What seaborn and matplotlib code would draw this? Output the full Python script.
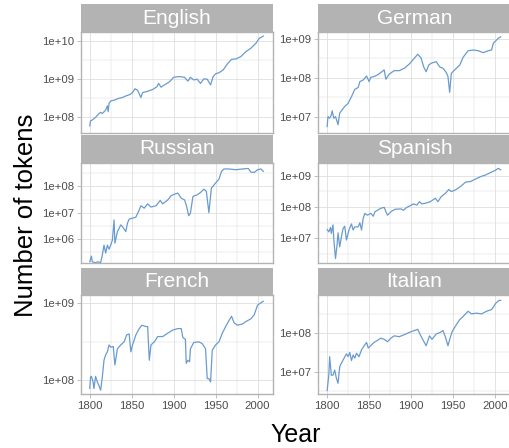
import matplotlib
matplotlib.use("Agg")
import numpy as np
import pandas as pd
import matplotlib.pyplot as plt
import seaborn as sns
from matplotlib.ticker import FixedLocator, FuncFormatter, MultipleLocator, NullFormatter
from matplotlib.patches import Rectangle

languages = ["English", "German", "Russian", "Spanish", "French", "Italian"]

english_years = [1800, 1801, 1803, 1807, 1811, 1813, 1815, 1819, 1821, 1822, 1823, 1825, 1829, 1835,
                 1839, 1843, 1848, 1851, 1854, 1857, 1861, 1863, 1867, 1875, 1880, 1882, 1885, 1889,
                 1895, 1900, 1907, 1913, 1917, 1920, 1924, 1928, 1932, 1936, 1940, 1944, 1947, 1950,
                 1954, 1959, 1964, 1969, 1974, 1980, 1986, 1992, 1998, 2002, 2007]
english_tokens = [5.9e7, 8.1e7, 8.5e7, 1.0e8, 1.26e8, 1.35e8, 1.26e8, 1.55e8, 2.0e8, 1.41e8, 2.34e8,
                  2.69e8, 2.82e8, 3.16e8, 3.31e8, 3.63e8, 3.98e8, 4.47e8, 5.62e8, 5.13e8, 3.31e8,
                  4.47e8, 4.68e8, 5.37e8, 6.31e8, 7.76e8, 6.17e8, 7.08e8, 8.51e8, 1.12e9, 1.17e9,
                  1.12e9, 8.91e8, 1.12e9, 9.55e8, 1.0e9, 7.76e8, 1.02e9, 1.0e9, 7.08e8, 1.17e9,
                  1.38e9, 1.48e9, 1.74e9, 2.51e9, 3.31e9, 3.39e9, 3.89e9, 5.25e9, 6.46e9, 8.71e9,
                  1.17e10, 1.35e10]

german_years = [1800, 1801, 1803, 1805, 1806, 1808, 1810, 1813, 1815, 1817, 1821, 1825, 1829, 1833,
                1837, 1839, 1843, 1847, 1850, 1852, 1856, 1860, 1864, 1868, 1870, 1874, 1880, 1886,
                1892, 1898, 1904, 1908, 1912, 1915, 1918, 1921, 1924, 1930, 1934, 1938, 1942, 1944,
                1946, 1948, 1952, 1958, 1962, 1968, 1974, 1980, 1986, 1992, 1996, 1998, 2004, 2007]
german_tokens = [5.5e6, 1.0e7, 9.1e6, 1.1e7, 1.41e7, 9.1e6, 1.0e7, 6.2e6, 1.23e7, 1.41e7, 1.82e7,
                 2.19e7, 3.24e7, 5.0e7, 5.6e7, 7.9e7, 8.7e7, 1.1e8, 7.9e7, 1.02e8, 1.07e8, 1.17e8,
                 1.35e8, 1.58e8, 9.1e7, 1.23e8, 1.51e8, 1.51e8, 1.74e8, 2.24e8, 3.16e8, 3.98e8,
                 3.16e8, 1.9e8, 1.41e8, 2.09e8, 2.34e8, 2.57e8, 1.9e8, 1.74e8, 1.35e8, 1.07e8,
                 4.2e7, 1.29e8, 1.58e8, 2.09e8, 3.31e8, 4.9e8, 5.1e8, 4.9e8, 4.37e8, 4.9e8, 5.1e8,
                 7.6e8, 1.02e9, 1.12e9]

russian_years = [1800, 1802, 1803, 1807, 1810, 1813, 1815, 1817, 1819, 1821, 1823, 1825, 1827, 1829,
                 1830, 1833, 1835, 1837, 1839, 1843, 1845, 1847, 1851, 1855, 1859, 1861, 1865, 1869,
                 1873, 1879, 1884, 1887, 1893, 1897, 1901, 1905, 1909, 1913, 1915, 1918, 1920, 1923,
                 1928, 1932, 1936, 1939, 1942, 1945, 1950, 1954, 1957, 1960, 1966, 1974, 1982, 1989,
                 1992, 1996, 2000, 2004, 2007]
russian_tokens = [1.4e5, 2.3e5, 1.4e5, 1.3e5, 1.4e5, 1.3e5, 2.5e5, 6.0e5, 3.0e5, 6.0e5, 4.2e5, 6.0e5,
                  9.3e5, 5.4e6, 7.1e5, 1.95e6, 2.6e6, 3.5e6, 3.0e6, 1.95e6, 4.1e6, 5.8e6, 6.3e6,
                  6.9e6, 1.29e7, 1.86e7, 1.51e7, 2.19e7, 1.66e7, 1.86e7, 2.95e7, 2.19e7, 3.09e7,
                  4.47e7, 5.1e7, 5.6e7, 3.6e7, 3.1e7, 2.0e7, 7.8e6, 9.8e6, 4.2e7, 4.8e7, 5.9e7,
                  7.9e7, 6.5e7, 1.02e7, 8.7e7, 1.35e8, 1.9e8, 3.7e8, 4.6e8, 4.6e8, 4.3e8, 4.6e8,
                  4.8e8, 3.5e8, 3.4e8, 4.3e8, 4.6e8, 3.7e8]

spanish_years = [1800, 1802, 1804, 1805, 1807, 1808, 1810, 1812, 1813, 1815, 1817, 1819, 1821, 1823,
                 1826, 1829, 1831, 1833, 1837, 1839, 1841, 1843, 1845, 1848, 1852, 1855, 1857, 1864,
                 1868, 1870, 1872, 1876, 1881, 1888, 1891, 1895, 1899, 1903, 1907, 1910, 1913, 1917,
                 1923, 1929, 1932, 1936, 1941, 1945, 1948, 1953, 1959, 1965, 1971, 1977, 1983, 1989,
                 1995, 2000, 2004, 2007]
spanish_tokens = [1.95e7, 1.62e7, 2.24e7, 1.45e7, 2.7e7, 8.9e6, 2.3e6, 6.9e6, 1.51e7, 5.4e6, 1.12e7,
                  2.09e7, 2.45e7, 8.9e6, 1.86e7, 2.9e7, 1.86e7, 2.34e7, 2.34e7, 3.16e7, 1.86e7,
                  4.4e7, 6.3e7, 5.5e7, 6.3e7, 5.1e7, 7.1e7, 9.1e7, 9.8e7, 7.1e7, 5.5e7, 7.1e7,
                  8.5e7, 8.7e7, 7.9e7, 9.8e7, 1.1e8, 1.26e8, 1.15e8, 1.48e8, 1.26e8, 1.32e8,
                  1.48e8, 1.9e8, 1.48e8, 2.14e8, 2.75e8, 3.6e8, 3.1e8, 3.5e8, 4.5e8, 6.2e8, 6.5e8,
                  7.8e8, 9.3e8, 1.05e9, 1.26e9, 1.45e9, 1.7e9, 1.51e9]

french_years = [1800, 1801, 1802, 1804, 1805, 1807, 1809, 1811, 1813, 1815, 1817, 1819, 1821, 1823,
                1825, 1828, 1830, 1833, 1837, 1841, 1844, 1847, 1849, 1851, 1855, 1859, 1862, 1867,
                1869, 1871, 1873, 1877, 1881, 1887, 1893, 1899, 1905, 1909, 1911, 1914, 1915, 1917,
                1919, 1920, 1924, 1930, 1934, 1938, 1940, 1942, 1944, 1946, 1950, 1954, 1958, 1962,
                1966, 1969, 1972, 1976, 1982, 1986, 1992, 1996, 2000, 2004, 2007]
french_tokens = [7.8e7, 1.1e8, 1.12e8, 9.5e7, 7.8e7, 1.12e8, 9.5e7, 8.5e7, 7.4e7, 1.1e8, 1.82e8,
                 2.14e8, 2.34e8, 2.88e8, 2.69e8, 2.75e8, 1.58e8, 2.57e8, 2.88e8, 3.16e8, 3.9e8,
                 4.0e8, 2.34e8, 2.88e8, 3.9e8, 4.7e8, 5.2e8, 5.0e8, 5.0e8, 1.82e8, 2.88e8, 3.16e8,
                 3.7e8, 3.7e8, 4.1e8, 4.5e8, 4.7e8, 4.7e8, 3.6e8, 3.4e8, 1.66e8, 1.82e8, 1.74e8,
                 2.57e8, 3.1e8, 3.16e8, 3.0e8, 2.57e8, 1.05e8, 1.05e8, 9.5e7, 2.45e8, 2.88e8,
                 3.16e8, 4.1e8, 5.0e8, 6.0e8, 6.8e8, 5.6e8, 5.2e8, 5.4e8, 5.8e8, 6.3e8, 7.1e8,
                 9.5e8, 1.02e9, 1.07e9]

italian_years = [1800, 1802, 1803, 1805, 1807, 1809, 1811, 1813, 1815, 1817, 1819, 1823, 1825, 1827,
                 1829, 1831, 1833, 1835, 1838, 1841, 1845, 1847, 1849, 1853, 1856, 1860, 1864, 1868,
                 1872, 1876, 1880, 1886, 1892, 1898, 1904, 1908, 1911, 1914, 1918, 1922, 1925, 1930,
                 1935, 1938, 1941, 1944, 1946, 1949, 1954, 1958, 1962, 1968, 1972, 1978, 1984, 1990,
                 1996, 2001, 2005, 2007]
italian_tokens = [3.2e6, 8.1e6, 2.45e7, 8.1e6, 8.1e6, 1.1e7, 6.8e6, 5.0e6, 1.35e7, 1.66e7, 2.0e7,
                  2.9e7, 2.45e7, 3.16e7, 1.95e7, 2.7e7, 2.24e7, 3.0e7, 2.45e7, 3.7e7, 5.0e7,
                  5.75e7, 4.1e7, 5.0e7, 5.75e7, 6.5e7, 7.4e7, 6.9e7, 6.0e7, 7.4e7, 8.5e7, 8.1e7,
                  9.1e7, 1.05e8, 1.17e8, 1.26e8, 9.1e7, 6.8e7, 4.7e7, 8.5e7, 6.9e7, 9.5e7, 1.05e8,
                  1.17e8, 7.9e7, 4.7e7, 6.8e7, 1.1e8, 1.66e8, 2.24e8, 2.7e8, 3.7e8, 3.16e8, 3.3e8,
                  3.16e8, 3.7e8, 4.1e8, 6.0e8, 7.1e8, 7.1e8]

x_ticks = [1800, 1850, 1900, 1950, 2000]

series = {
    "English": (english_years, english_tokens),
    "German": (german_years, german_tokens),
    "Russian": (russian_years, russian_tokens),
    "Spanish": (spanish_years, spanish_tokens),
    "French": (french_years, french_tokens),
    "Italian": (italian_years, italian_tokens),
}

# panel y-limits (log10)
ylims = {
    "English": (7.59, 10.236),
    "German": (6.58, 9.17),
    "Russian": (5.09, 8.9),
    "Spanish": (6.21, 9.41),
    "French": (7.82, 9.11),
    "Italian": (6.42, 8.99),
}

df = pd.concat(
    [pd.DataFrame({"language": k, "year": v[0], "tokens": v[1]}) for k, v in series.items()],
    ignore_index=True,
)

sns.set_theme(style="white")
plt.rcParams["font.family"] = ["Liberation Sans", "DejaVu Sans"]

LINE = "#6a9bcf"
GRID = "#DEDEDE"
BORDER = "#B3B3B3"
TXT = "#4D4D4D"

g = sns.FacetGrid(df, col="language", col_wrap=2, col_order=languages,
                  sharex=True, sharey=False, height=1.5, aspect=1.3)
g.map_dataframe(sns.lineplot, x="year", y="tokens", color=LINE, linewidth=0.9)
fig = g.figure
fig.set_size_inches(5.09, 4.48)
g.set_titles("")
g.set_axis_labels("", "")

W, H = 509.0, 448.0
col_left = [81.0, 318.4]
col_w = 192.0
rows = [(32.0, 133.0), (162.7, 263.3), (295.0, 394.0)]
strip_h = 27.5

fmt = FuncFormatter(lambda v, p: f"{v:.0e}")

for i, lang in enumerate(languages):
    ax = g.axes_dict[lang]
    r, c = divmod(i, 2)
    top, bot = rows[r]
    ax.set_position([col_left[c] / W, 1 - bot / H, col_w / W, (bot - top) / H])
    ax.set_yscale("log")
    lo, hi = ylims[lang]
    ax.set_ylim(10 ** lo, 10 ** hi)
    ax.set_xlim(1789.6, 2018.4)
    ax.xaxis.set_major_locator(FixedLocator(x_ticks))
    ax.xaxis.set_minor_locator(MultipleLocator(25))
    ax.yaxis.set_major_locator(FixedLocator([10.0 ** k for k in range(3, 12)]))
    ax.yaxis.set_minor_locator(FixedLocator([10.0 ** (k + 0.5) for k in range(3, 12)]))
    ax.yaxis.set_major_formatter(fmt)
    ax.yaxis.set_minor_formatter(NullFormatter())
    ax.grid(which="major", color=GRID, linewidth=0.6)
    ax.grid(which="minor", color=GRID, linewidth=0.35)
    ax.set_axisbelow(True)
    for s in ax.spines.values():
        s.set_visible(True)
        s.set_color(BORDER)
        s.set_linewidth(1.0)
    ax.tick_params(which="major", length=3.2, width=0.6, color=BORDER,
                   labelcolor=TXT, labelsize=8.2, pad=2.0, left=True, bottom=True)
    ax.tick_params(which="minor", length=0)
    if r < 2:
        ax.tick_params(axis="x", labelbottom=False, bottom=False)
    ph = bot - top
    ax.add_patch(Rectangle((0, 1), 1, strip_h / ph, transform=ax.transAxes,
                           facecolor=BORDER, edgecolor="none", clip_on=False))
    ax.text(0.5, 1 + strip_h / ph / 2, lang, transform=ax.transAxes,
            ha="center", va="center", color="white", fontsize=15)

fig.text(295.5 / W, 1 - 435 / H, "Year", ha="center", va="center", fontsize=18, color="black")
fig.text(26 / W, 1 - 215 / H, "Number of tokens", ha="center", va="center",
         rotation=90, fontsize=18.5, color="black")

fig.savefig("out.png", dpi=100)
